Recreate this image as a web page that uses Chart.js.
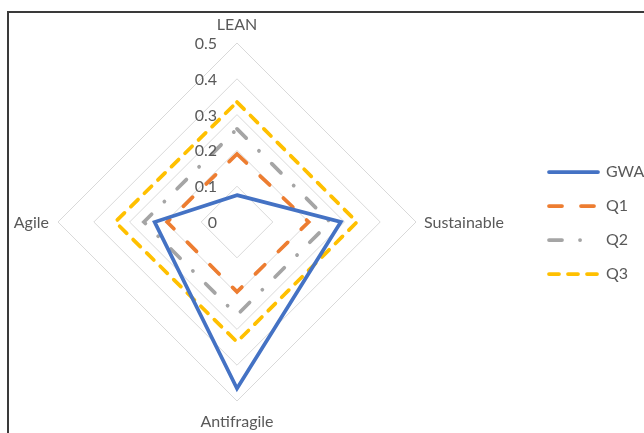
<!DOCTYPE html>
<html>
<head>
<meta charset="utf-8">
<script src="https://cdn.jsdelivr.net/npm/chart.js@4/dist/chart.umd.min.js"></script>
<style>
  html, body { margin: 0; padding: 0; background: #ffffff; }
  #wrap { position: relative; width: 644px; height: 433px; overflow: hidden; }
  #frame { position: absolute; left: 7px; top: 11px; right: -4px; bottom: -4px;
           border-top: 2px solid #3a3a3a; border-left: 2px solid #3a3a3a; pointer-events: none; }
  canvas { position: absolute; left: 0; top: 0; }
</style>
</head>
<body>
<div id="wrap">
  <canvas id="chart" width="644" height="433"></canvas>
  <div id="frame"></div>
</div>
<script>
// Radar axes, clockwise from the top
const categories = ['LEAN', 'Sustainable', 'Antifragile', 'Agile'];

// Series values per axis
const gwaValues = [0.075, 0.29, 0.465, 0.23];
const q1Values  = [0.19, 0.20, 0.195, 0.195];
const q2Values  = [0.26, 0.26, 0.26, 0.26];
const q3Values  = [0.335, 0.335, 0.335, 0.34];

// Radial scale ticks
const tickLabels = ['0', '0.1', '0.2', '0.3', '0.4', '0.5'];

const FONT = 'Lato, "Open Sans", sans-serif';
const TEXT_COLOR = '#595959';
const FONT_SIZE = 16;

// Tick labels to the left of the vertical axis, and axis names at the outer vertices
const axisText = {
  id: 'axisText',
  afterDatasetsDraw(chart) {
    const r = chart.scales.r;
    const ctx = chart.ctx;
    ctx.save();
    ctx.font = FONT_SIZE + 'px ' + FONT;
    ctx.fillStyle = TEXT_COLOR;
    ctx.textBaseline = 'alphabetic';
    ctx.textAlign = 'right';
    r.ticks.forEach((t, i) => {
      const d = r.getDistanceFromCenterForValue(t.value);
      ctx.fillText(tickLabels[i] ?? String(t.value), r.xCenter - 20, r.yCenter - d + 6);
    });
    const outer = r.drawingArea;
    ctx.textAlign = 'center';
    ctx.fillText(chart.data.labels[0], r.xCenter, r.yCenter - outer - 13);
    ctx.textAlign = 'left';
    ctx.fillText(chart.data.labels[1], r.xCenter + outer + 8, r.yCenter + 6);
    ctx.textAlign = 'center';
    ctx.fillText(chart.data.labels[2], r.xCenter, r.yCenter + outer + 26);
    ctx.textAlign = 'right';
    ctx.fillText(chart.data.labels[3], r.xCenter - outer - 9, r.yCenter + 6);
    ctx.restore();
  }
};

// Legend at the right: a line sample in each series' style, then its name
const sideLegend = {
  id: 'sideLegend',
  afterDraw(chart) {
    const ctx = chart.ctx;
    const x0 = 549, len = 49, top = 172, step = 34;
    ctx.save();
    chart.data.datasets.forEach((ds, i) => {
      const y = top + i * step;
      ctx.beginPath();
      ctx.strokeStyle = ds.borderColor;
      ctx.lineWidth = ds.borderWidth;
      ctx.lineCap = ds.borderCapStyle || 'butt';
      ctx.setLineDash(ds.borderDash || []);
      ctx.moveTo(x0, y);
      ctx.lineTo(x0 + len, y);
      ctx.stroke();
      ctx.setLineDash([]);
      ctx.font = FONT_SIZE + 'px ' + FONT;
      ctx.fillStyle = TEXT_COLOR;
      ctx.textAlign = 'left';
      ctx.textBaseline = 'middle';
      ctx.fillText(ds.label, 606, y);
    });
    ctx.restore();
  }
};

new Chart(document.getElementById('chart'), {
  type: 'radar',
  data: {
    labels: categories,
    datasets: [
      { label: 'GWA', data: gwaValues, borderColor: '#4472C4', borderWidth: 3.75,
        borderDash: [], borderCapStyle: 'round', borderJoinStyle: 'miter', fill: false },
      { label: 'Q1', data: q1Values, borderColor: '#ED7D31', borderWidth: 3.75,
        borderDash: [13, 19], borderCapStyle: 'round', borderJoinStyle: 'miter', fill: false },
      { label: 'Q2', data: q2Values, borderColor: '#A5A5A5', borderWidth: 3.75,
        borderDash: [13, 18, 0.1, 18], borderCapStyle: 'round', borderJoinStyle: 'miter', fill: false },
      { label: 'Q3', data: q3Values, borderColor: '#FFC000', borderWidth: 3.75,
        borderDash: [10, 9], borderCapStyle: 'round', borderJoinStyle: 'miter', fill: false }
    ]
  },
  options: {
    responsive: false,
    animation: false,
    devicePixelRatio: 1,
    layout: { padding: { left: 58, right: 228, top: 43, bottom: 32 } },
    elements: { point: { radius: 0, hoverRadius: 0 }, line: { tension: 0 } },
    plugins: { legend: { display: false }, tooltip: { enabled: false } },
    scales: {
      r: {
        min: 0,
        max: 0.5,
        ticks: { stepSize: 0.1, display: false },
        grid: { circular: false, color: '#d9d9d9', lineWidth: 1 },
        angleLines: { display: false },
        pointLabels: { display: false }
      }
    }
  },
  plugins: [axisText, sideLegend]
});
</script>
</body>
</html>
